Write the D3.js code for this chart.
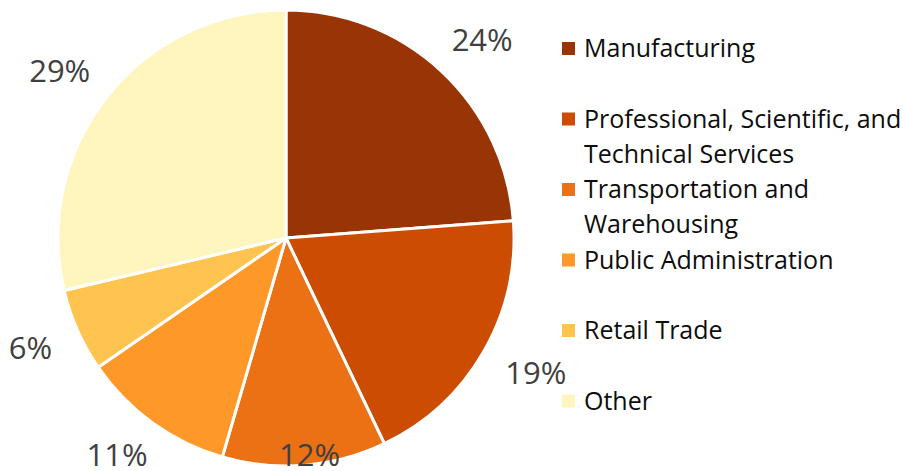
<!DOCTYPE html>
<html>
<head>
<meta charset="utf-8">
<script src="https://cdn.jsdelivr.net/npm/d3@7"></script>
<style>
  html, body { margin: 0; padding: 0; background: #fff; }
  svg { display: block; }
</style>
</head>
<body>
<svg id="chart" width="903" height="471"></svg>
<script>
// Share of employment by industry
const categories = [
  "Manufacturing",
  "Professional, Scientific, and Technical Services",
  "Transportation and Warehousing",
  "Public Administration",
  "Retail Trade",
  "Other"
];
const shares = [23.8, 19.1, 11.6, 10.9, 5.9, 28.7];
const colors = ["#993404", "#cc4c02", "#ec7014", "#fe9929", "#fec44f", "#fff5bf"];

const W = 903, H = 471;
const cx = 286, cy = 238, R = 228;
const labelR = 258;
const labelFont = 31;
const legendFont = 25;
const fontFamily = "'Open Sans', 'Noto Sans', sans-serif";

const svg = d3.select("#chart");
const data = categories.map((c, i) => ({ name: c, value: shares[i], color: colors[i] }));
const total = d3.sum(shares);

const pie = d3.pie().value(d => d.value).sort(null);
const arcs = pie(data);
const arc = d3.arc().innerRadius(0).outerRadius(R);

const g = svg.append("g").attr("transform", `translate(${cx},${cy})`);

g.selectAll("path.slice")
  .data(arcs)
  .join("path")
  .attr("class", "slice")
  .attr("d", arc)
  .attr("fill", d => d.data.color)
  .attr("stroke", "#fff")
  .attr("stroke-width", 3)
  .attr("stroke-linejoin", "round");

// Percentage labels: the label box sits just outside the rim, pushed outward
// along the slice's mid-angle, and is kept inside the drawing area
const fmt = v => Math.round(v / total * 100) + "%";
const halfH = 12;
g.selectAll("text.pct")
  .data(arcs)
  .join("text")
  .attr("class", "pct")
  .attr("text-anchor", "middle")
  .attr("font-family", fontFamily)
  .attr("font-size", labelFont)
  .attr("fill", "#404040")
  .text(d => fmt(d.data.value))
  .each(function (d) {
    const a = (d.startAngle + d.endAngle) / 2;
    const halfW = this.getComputedTextLength() / 2;
    let x = Math.sin(a) * labelR + Math.sin(a) * halfW;
    let y = -Math.cos(a) * labelR - Math.cos(a) * halfH;
    const maxY = H - 16 - cy;
    if (y > maxY) y = maxY;
    d3.select(this)
      .attr("x", x)
      .attr("y", y + labelFont * 0.357);
  });

// Legend
const legX = 562, legY0 = 48.5, legStep = 70.5, lineH = 35, wrapW = 330;
const legend = svg.append("g").attr("class", "legend");

data.forEach((d, i) => {
  const yc = legY0 + i * legStep;
  const item = legend.append("g");
  item.append("rect")
    .attr("x", legX)
    .attr("y", yc - 6.5)
    .attr("width", 13)
    .attr("height", 13)
    .attr("fill", d.color);
  const text = item.append("text")
    .attr("font-family", fontFamily)
    .attr("font-size", legendFont)
    .attr("fill", "#0d0d0d");
  // word wrap into lines no wider than wrapW
  const words = d.name.split(" ");
  let line = [];
  let lineNo = 0;
  let tspan = text.append("tspan").attr("x", legX + 22).attr("y", yc + legendFont * 0.357);
  words.forEach(w => {
    line.push(w);
    tspan.text(line.join(" "));
    if (tspan.node().getComputedTextLength() > wrapW && line.length > 1) {
      line.pop();
      tspan.text(line.join(" "));
      line = [w];
      lineNo++;
      tspan = text.append("tspan")
        .attr("x", legX + 22)
        .attr("y", yc + lineNo * lineH + legendFont * 0.357)
        .text(w);
    }
  });
});
</script>
</body>
</html>
